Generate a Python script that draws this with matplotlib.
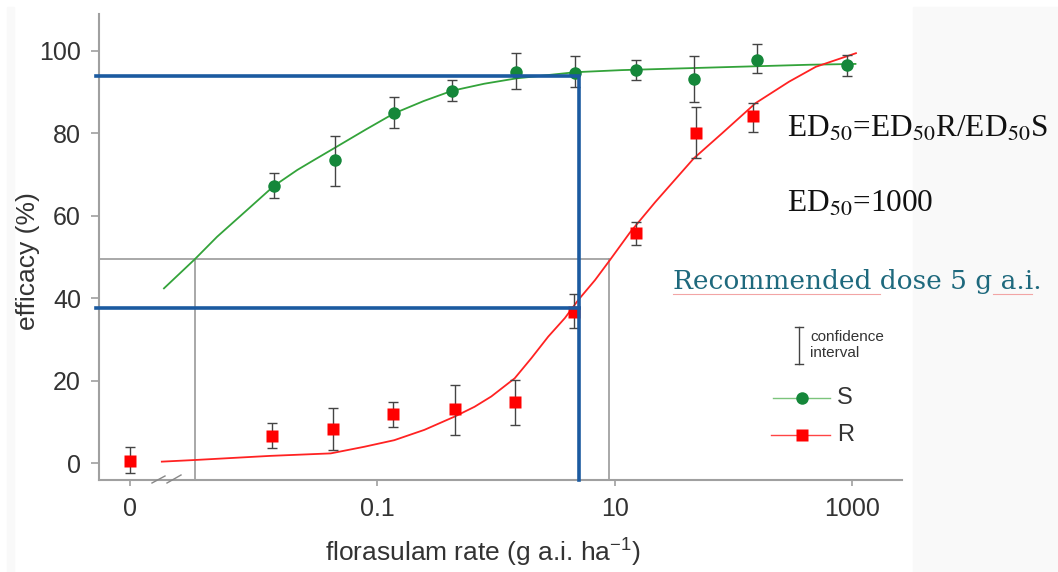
import matplotlib
matplotlib.use("Agg")
import matplotlib.pyplot as plt
from matplotlib.lines import Line2D
from matplotlib.patches import Rectangle
from matplotlib.ticker import NullLocator

plt.rcParams['font.family'] = ['Liberation Sans', 'DejaVu Sans']
plt.rcParams['mathtext.fontset'] = 'custom'
plt.rcParams['mathtext.rm'] = 'Liberation Sans'
plt.rcParams['mathtext.it'] = 'Liberation Sans'

W, H = 1058, 572

# ---------------- data ----------------
# Susceptible population (S): dose (g a.i./ha), mean efficacy, CI low/high
s_rate = [0.0134, 0.0445, 0.138, 0.425, 1.47, 4.67, 15.0, 46.2, 158, 912]
s_eff = [67.3, 73.4, 84.8, 90.3, 94.9, 94.6, 95.3, 93.2, 97.8, 96.5]
s_lo = [64.2, 67.2, 81.2, 87.7, 90.7, 91.1, 92.8, 87.6, 94.5, 93.9]
s_hi = [70.4, 79.4, 88.7, 92.8, 99.5, 98.8, 97.8, 98.8, 101.7, 98.9]

# Resistant population (R)
r_rate = [0, 0.0129, 0.0428, 0.137, 0.454, 1.44, 4.55, 15.0, 48.1, 145]
r_eff = [0.6, 6.6, 8.2, 11.9, 13.1, 14.8, 36.6, 55.8, 80.0, 84.1]
r_lo = [-2.4, 3.6, 3.2, 8.8, 6.9, 9.3, 32.7, 52.9, 73.9, 80.3]
r_hi = [3.9, 9.7, 13.4, 14.9, 19.0, 20.2, 41.0, 58.4, 86.3, 87.4]

# fitted dose-response curves
s_fit_rate = [0.0016, 0.00292, 0.00448, 0.00802, 0.01346, 0.02124, 0.02934,
              0.04477, 0.0802, 0.1384, 0.2462, 0.428, 0.798, 1.488, 4.69,
              11.48, 80.1, 435.5, 1067]
s_fit_eff = [42.4, 49.5, 54.9, 61.4, 67.2, 71.1, 73.5, 76.6, 80.9, 84.8, 87.8,
             90.3, 92.0, 93.3, 94.8, 95.3, 96.0, 96.6, 96.8]
r_fit_rate = [0.001535, 0.00293, 0.01263, 0.0406, 0.0777, 0.1392, 0.2495,
              0.4475, 0.6607, 0.9145, 1.439, 1.991, 2.757, 3.808, 4.943, 6.830,
              9.036, 13.50, 21.95, 46.35, 80.4, 153.8, 294.5, 494.3, 1077]
r_fit_eff = [0.4, 0.8, 1.8, 2.4, 4.0, 5.6, 8.1, 11.3, 13.7, 16.2, 20.6, 25.5,
             30.7, 35.2, 39.6, 44.4, 49.1, 56.0, 63.3, 73.9, 80.0, 87.3, 92.5,
             96.1, 99.4]

half_level = 49.5
ed50_s = 0.0029
ed50_r = 9.04
rec_dose = 5.0
rec_eff_s = 93.9
rec_eff_r = 37.7

x_ticks = [0, 0.1, 10, 1000]
x_ticklabels = ['0', '0.1', '10', '1000']
y_ticks = [0, 20, 40, 60, 80, 100]

ZERO_AT = 10 ** -3.08      # where dose 0 sits on the broken log axis
X_MIN, X_MAX = 10 ** -3.343, 10 ** 3.42
Y_MIN, Y_MAX = -4.05, 108.9


def xpos(v):
    return [ZERO_AT if d == 0 else d for d in v]


def fx(px):
    return px / W


def fy(py):
    return 1 - py / H


fig = plt.figure(figsize=(W / 100, H / 100), dpi=100)

# slide background pieces
fig.patches.append(Rectangle((fx(913), 0), 1 - fx(913), fy(7), transform=fig.transFigure,
                             color='#f9f9f9', zorder=0))
fig.patches.append(Rectangle((fx(7), 0), fx(7), fy(7), transform=fig.transFigure,
                             color='#f9f9f9', zorder=0))

ax = fig.add_axes([fx(99), fy(480), (902 - 99) / W, (480 - 14) / H])
ax.patch.set_alpha(0)
ax.set_xscale('log')
ax.set_xlim(X_MIN, X_MAX)
ax.set_ylim(Y_MIN, Y_MAX)

for sp in ['top', 'right']:
    ax.spines[sp].set_visible(False)
for sp in ['left', 'bottom']:
    ax.spines[sp].set_color('#a0a0a0')
    ax.spines[sp].set_linewidth(1.5)

ax.set_xticks(xpos(x_ticks))
ax.set_xticklabels(x_ticklabels)
ax.xaxis.set_minor_locator(NullLocator())
ax.set_yticks(y_ticks)
ax.tick_params(axis='both', colors='#a0a0a0', labelcolor='#333333',
               labelsize=18, width=1.2)
ax.tick_params(axis='y', length=6, pad=7)
ax.tick_params(axis='x', length=4, pad=8)

# guide lines
gray = '#9a9a9a'
ax.plot([X_MIN, ed50_r], [half_level, half_level], color=gray, lw=1.2, zorder=1)
ax.plot([ed50_s, ed50_s], [Y_MIN, half_level], color=gray, lw=1.2, zorder=1)
ax.plot([ed50_r, ed50_r], [Y_MIN, half_level], color=gray, lw=1.2, zorder=1)

# fitted curves
ax.plot(s_fit_rate, s_fit_eff, color='#33a33a', lw=1.3, zorder=2)
ax.plot(r_fit_rate, r_fit_eff, color='#ff2222', lw=1.3, zorder=2)

# data points with confidence intervals
s_err = [[e - l for e, l in zip(s_eff, s_lo)], [h - e for e, h in zip(s_eff, s_hi)]]
r_err = [[e - l for e, l in zip(r_eff, r_lo)], [h - e for e, h in zip(r_eff, r_hi)]]
ax.errorbar(xpos(s_rate), s_eff, yerr=s_err, fmt='none', ecolor='#444444',
            elinewidth=1.0, capsize=3.5, capthick=1.0, zorder=3)
ax.errorbar(xpos(r_rate), r_eff, yerr=r_err, fmt='none', ecolor='#444444',
            elinewidth=1.0, capsize=3.5, capthick=1.0, zorder=3)
ax.plot(xpos(s_rate), s_eff, 'o', color='#15873a', ms=9, mec='none', zorder=4)
ax.plot(xpos(r_rate), r_eff, 's', color='#ff0000', ms=8, mec='none', zorder=4)

# recommended dose lines
blue = '#1b5aa0'
x_left = 10 ** -3.37
ax.plot([x_left, rec_dose, rec_dose], [rec_eff_s, rec_eff_s, Y_MIN], color=blue,
        lw=2.6, zorder=5, clip_on=False, solid_joinstyle='miter')
ax.plot([x_left, rec_dose], [rec_eff_r, rec_eff_r], color=blue, lw=2.6, zorder=5,
        clip_on=False)

# axis break marks
for (x0, y0, x1, y1) in [(152, 483, 165, 476), (167, 483, 181, 475)]:
    fig.add_artist(Line2D([fx(x0), fx(x1)], [fy(y0), fy(y1)], transform=fig.transFigure,
                          color='#888888', lw=1.0))

# axis labels
fig.text(fx(483), fy(553), 'florasulam rate (g a.i. ha$^{-1}$)', fontsize=19,
         color='#333333', ha='center', va='center')
fig.text(fx(28), fy(261), 'efficacy (%)', fontsize=19, color='#333333',
         ha='center', va='center', rotation=90)

# legend (drawn by hand)
lc = '#444444'
fig.add_artist(Line2D([fx(799), fx(799)], [fy(327), fy(364)], transform=fig.transFigure,
                      color=lc, lw=1.0))
for yy in (327, 364):
    fig.add_artist(Line2D([fx(795), fx(803)], [fy(yy), fy(yy)], transform=fig.transFigure,
                          color=lc, lw=1.0))
fig.text(fx(810), fy(337), 'confidence', fontsize=11, color='#333333', va='center')
fig.text(fx(810), fy(353), 'interval', fontsize=11, color='#333333', va='center')

fig.add_artist(Line2D([fx(773), fx(830)], [fy(398), fy(398)], transform=fig.transFigure,
                      color='#7cc47c', lw=1.0))
fig.add_artist(Line2D([fx(802)], [fy(398)], transform=fig.transFigure, marker='o',
                      color='#15873a', ms=9, mec='none'))
fig.text(fx(837), fy(398), 'S', fontsize=17, color='#333333', va='center')
fig.add_artist(Line2D([fx(771), fx(830)], [fy(435), fy(435)], transform=fig.transFigure,
                      color='#ff4444', lw=1.0))
fig.add_artist(Line2D([fx(802)], [fy(435)], transform=fig.transFigure, marker='s',
                      color='#ff0000', ms=8, mec='none'))
fig.text(fx(837), fy(435), 'R', fontsize=17, color='#333333', va='center')

# annotations
ed_font = dict(family='Liberation Serif', math_fontfamily='stix')
fig.text(fx(787), fy(137), 'ED$_{50}$=ED$_{50}$R/ED$_{50}$S', fontsize=22.5,
         color='#111111', va='baseline', **ed_font)
fig.text(fx(787), fy(212), 'ED$_{50}$=1000', fontsize=22.5, color='#111111',
         va='baseline', **ed_font)
fig.text(fx(673), fy(289), 'Recommended dose 5 g a.i.', fontsize=19,
         color='#1e697d', va='baseline', family='DejaVu Serif')
fig.add_artist(Line2D([fx(673), fx(880)], [fy(294), fy(294)], transform=fig.transFigure,
                      color='#f2a5a5', lw=0.8))
fig.add_artist(Line2D([fx(993), fx(1032)], [fy(294), fy(294)], transform=fig.transFigure,
                      color='#f2a5a5', lw=0.8))

fig.savefig('out.png', dpi=100)
